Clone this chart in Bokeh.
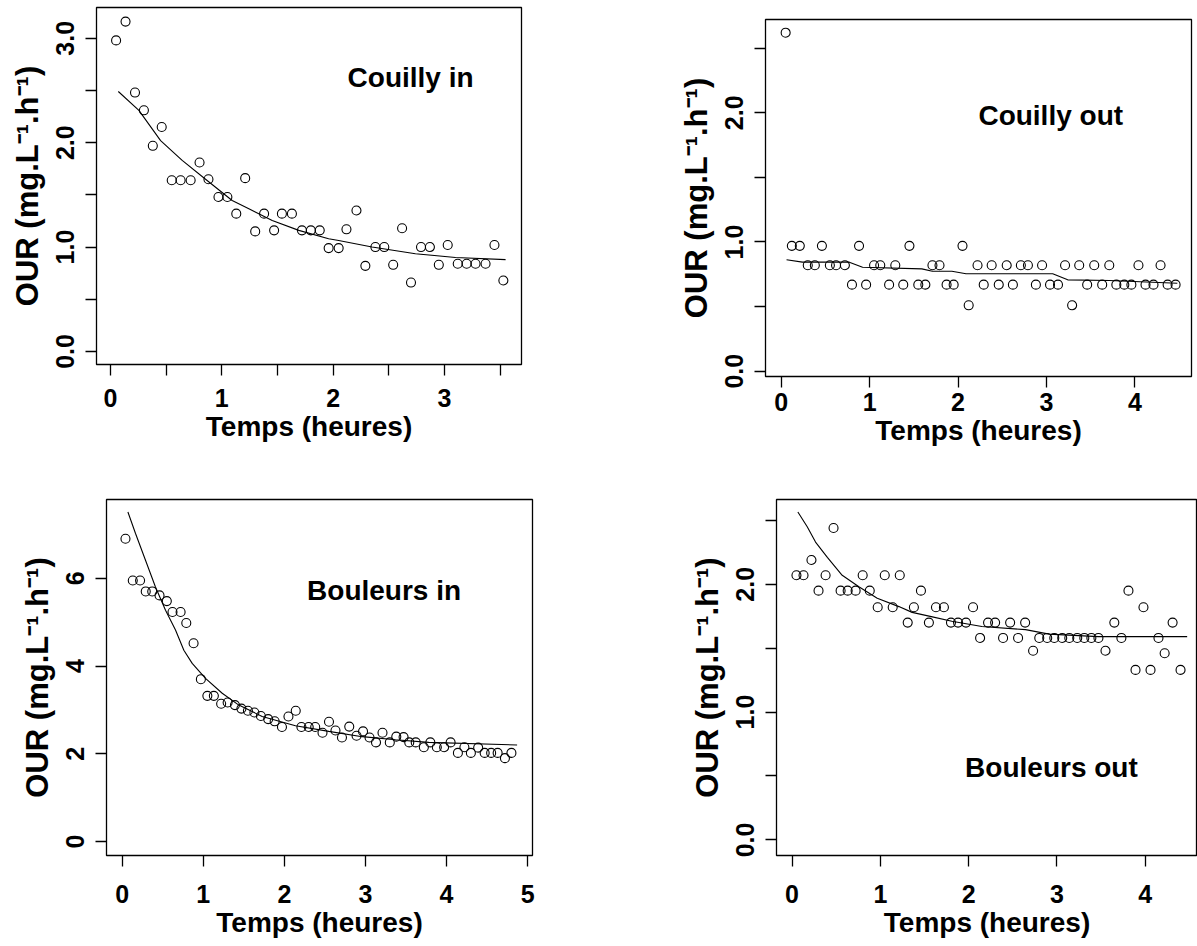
from bokeh.plotting import figure
from bokeh.models import FixedTicker, PrintfTickFormatter, Label, Range1d, Spacer
from bokeh.layouts import column, row
from bokeh.embed import file_html
from bokeh.resources import INLINE

FONT = "Liberation Sans"
XLAB = "Temps (heures)"
YLAB = "OUR (mg.L\u207b\u00b9.h\u207b\u00b9)"

# ---------------- Couilly in ----------------
ci_t = [0.05, 0.135, 0.22, 0.30, 0.38, 0.46, 0.55, 0.63, 0.72, 0.80, 0.88, 0.97, 1.05,
        1.13, 1.21, 1.30, 1.38, 1.47, 1.54, 1.63, 1.72, 1.80, 1.88, 1.96, 2.05, 2.12,
        2.21, 2.29, 2.38, 2.46, 2.54, 2.62, 2.70, 2.79, 2.87, 2.95, 3.03, 3.12, 3.20,
        3.28, 3.37, 3.45, 3.53]
ci_our = [2.98, 3.16, 2.48, 2.31, 1.97, 2.15, 1.64, 1.64, 1.64, 1.81, 1.65, 1.48, 1.48,
          1.32, 1.66, 1.15, 1.32, 1.16, 1.32, 1.32, 1.16, 1.16, 1.16, 0.99, 0.99, 1.17,
          1.35, 0.82, 1.00, 1.00, 0.83, 1.18, 0.66, 1.00, 1.00, 0.83, 1.02, 0.84, 0.84,
          0.84, 0.84, 1.02, 0.68]
ci_fit_t = [0.07, 0.255, 0.45, 0.644, 0.854, 1.093, 1.243, 1.453, 1.692, 1.96, 2.05,
            2.35, 2.74, 3.1, 3.55]
ci_fit_our = [2.49, 2.31, 2.02, 1.83, 1.65, 1.446, 1.367, 1.255, 1.16, 1.08, 1.063,
              1.00, 0.936, 0.90, 0.88]

# ---------------- Couilly out ----------------
co_t = [0.05, 0.12, 0.21, 0.30, 0.38, 0.46, 0.55, 0.62, 0.72, 0.80, 0.88, 0.96, 1.05,
        1.12, 1.22, 1.29, 1.38, 1.45, 1.55, 1.63, 1.71, 1.79, 1.87, 1.95, 2.05, 2.12,
        2.22, 2.29, 2.38, 2.46, 2.55, 2.62, 2.71, 2.79, 2.88, 2.95, 3.04, 3.13, 3.21,
        3.29, 3.37, 3.46, 3.54, 3.63, 3.71, 3.79, 3.88, 3.96, 4.04, 4.12, 4.21, 4.29,
        4.37, 4.46]
co_our = [2.62, 0.97, 0.97, 0.82, 0.82, 0.97, 0.82, 0.82, 0.82, 0.67, 0.97, 0.67, 0.82,
          0.82, 0.67, 0.82, 0.67, 0.97, 0.67, 0.67, 0.82, 0.82, 0.67, 0.67, 0.97, 0.51,
          0.82, 0.67, 0.82, 0.67, 0.82, 0.67, 0.82, 0.82, 0.67, 0.82, 0.67, 0.67, 0.82,
          0.51, 0.82, 0.67, 0.82, 0.67, 0.82, 0.67, 0.67, 0.67, 0.82, 0.67, 0.67, 0.82,
          0.67, 0.67]
co_fit_t = [0.06, 0.24, 0.77, 0.92, 1.59, 1.71, 1.93, 2.09, 3.07, 3.24, 3.71, 4.48]
co_fit_our = [0.862, 0.844, 0.844, 0.805, 0.792, 0.774, 0.774, 0.754, 0.754, 0.707,
              0.702, 0.681]

# ---------------- Bouleurs in ----------------
bi_t = [0.04, 0.13, 0.22, 0.29, 0.37, 0.46, 0.55, 0.62, 0.72, 0.79, 0.88, 0.97, 1.05,
        1.13, 1.22, 1.30, 1.39, 1.47, 1.55, 1.63, 1.71, 1.80, 1.88, 1.97, 2.05, 2.14,
        2.21, 2.30, 2.38, 2.47, 2.55, 2.63, 2.71, 2.80, 2.89, 2.97, 3.05, 3.13, 3.21,
        3.30, 3.38, 3.47, 3.54, 3.62, 3.72, 3.80, 3.88, 3.97, 4.05, 4.14, 4.22, 4.30,
        4.39, 4.47, 4.55, 4.63, 4.72, 4.80]
bi_our = [6.90, 5.95, 5.95, 5.70, 5.70, 5.61, 5.48, 5.23, 5.23, 4.98, 4.52, 3.70, 3.32,
          3.32, 3.14, 3.17, 3.11, 3.03, 2.98, 2.94, 2.86, 2.79, 2.74, 2.61, 2.85, 2.98,
          2.61, 2.61, 2.61, 2.48, 2.73, 2.53, 2.37, 2.62, 2.41, 2.51, 2.37, 2.26, 2.48,
          2.26, 2.39, 2.38, 2.26, 2.26, 2.15, 2.26, 2.15, 2.15, 2.26, 2.02, 2.15, 2.02,
          2.14, 2.02, 2.02, 2.02, 1.90, 2.02]
bi_fit_t = [0.07, 0.164, 0.287, 0.41, 0.534, 0.657, 0.76, 0.863, 1.027, 1.233, 1.438,
            1.726, 2.137, 2.548, 2.96, 3.37, 3.78, 4.87]
bi_fit_our = [7.51, 7.02, 6.41, 5.80, 5.27, 4.82, 4.36, 4.06, 3.72, 3.38, 3.11, 2.85,
              2.64, 2.51, 2.39, 2.32, 2.26, 2.20]

# ---------------- Bouleurs out ----------------
bo_t = [0.05, 0.13, 0.22, 0.30, 0.38, 0.47, 0.55, 0.63, 0.72, 0.80, 0.88, 0.97, 1.05,
        1.14, 1.22, 1.31, 1.38, 1.46, 1.55, 1.63, 1.72, 1.80, 1.88, 1.97, 2.05, 2.13,
        2.22, 2.30, 2.39, 2.47, 2.56, 2.64, 2.73, 2.80, 2.89, 2.97, 3.06, 3.14, 3.23,
        3.31, 3.39, 3.47, 3.55, 3.65, 3.73, 3.81, 3.89, 3.98, 4.06, 4.15, 4.22, 4.31,
        4.40]
bo_our = [2.07, 2.07, 2.19, 1.95, 2.07, 2.44, 1.95, 1.95, 1.95, 2.07, 1.95, 1.82, 2.07,
          1.82, 2.07, 1.70, 1.82, 1.95, 1.70, 1.82, 1.82, 1.70, 1.70, 1.70, 1.82, 1.58,
          1.70, 1.70, 1.58, 1.70, 1.58, 1.70, 1.48, 1.58, 1.58, 1.58, 1.58, 1.58, 1.58,
          1.58, 1.58, 1.58, 1.48, 1.70, 1.58, 1.95, 1.33, 1.82, 1.33, 1.58, 1.46, 1.70,
          1.33]
bo_fit_t = [0.066, 0.172, 0.266, 0.40, 0.568, 0.757, 0.965, 1.21, 1.36, 1.59, 1.81,
            2.15, 2.645, 2.91, 3.47, 4.475]
bo_fit_our = [2.565, 2.45, 2.33, 2.21, 2.07, 1.98, 1.89, 1.825, 1.78, 1.745, 1.71,
              1.67, 1.645, 1.61, 1.59, 1.59]


def panel(width, height, borders, xr, yr, xmaj, xmin, ymaj, ymin, yfmt,
          t, our, fit_t, fit_our, label, label_xy, x_standoff):
    ml, mr, mt, mb = borders
    p = figure(width=width, height=height, output_backend="svg", toolbar_location=None,
               title=None,
               x_range=Range1d(*xr), y_range=Range1d(*yr),
               min_border_left=ml, min_border_right=mr,
               min_border_top=mt, min_border_bottom=mb,
               background_fill_color="white", border_fill_color="white")
    p.grid.visible = False
    p.outline_line_color = "black"
    p.outline_line_width = 1.3
    p.xaxis.ticker = FixedTicker(ticks=xmaj, minor_ticks=xmin)
    p.yaxis.ticker = FixedTicker(ticks=ymaj, minor_ticks=ymin)
    p.yaxis.formatter = PrintfTickFormatter(format=yfmt)
    p.xaxis.formatter = PrintfTickFormatter(format="%d")
    for ax in (p.xaxis, p.yaxis):
        ax.axis_line_color = None
        ax.major_tick_in = 0
        ax.major_tick_out = 11
        ax.minor_tick_in = 0
        ax.minor_tick_out = 11
        ax.major_tick_line_color = "black"
        ax.minor_tick_line_color = "black"
        ax.major_tick_line_width = 1.3
        ax.minor_tick_line_width = 1.3
        ax.major_label_text_font = FONT
        ax.major_label_text_font_style = "bold"
        ax.major_label_text_font_size = "25px"
        ax.major_label_text_color = "black"
        ax.axis_label_text_font = FONT
        ax.axis_label_text_font_style = "bold"
        ax.axis_label_text_color = "black"
    p.xaxis.axis_label = XLAB
    p.yaxis.axis_label = YLAB
    p.xaxis.axis_label_text_font_size = "28px"
    p.yaxis.axis_label_text_font_size = "31px"
    p.yaxis.major_label_orientation = "parallel"
    p.xaxis.major_label_standoff = x_standoff
    p.yaxis.major_label_standoff = 11
    p.xaxis.axis_label_standoff = 1
    p.yaxis.axis_label_standoff = 9

    p.line(fit_t, fit_our, line_color="black", line_width=1.1)
    p.scatter(t, our, marker="circle", size=9, fill_color=None,
              line_color="black", line_width=1.1)
    p.add_layout(Label(x=label_xy[0], y=label_xy[1], text=label, text_font=FONT,
                       text_font_style="bold", text_font_size="28px",
                       text_color="black", text_align="left",
                       text_baseline="alphabetic"))
    return p


p1 = panel(600, 478, (96, 79, 7, 114), (-0.126, 3.693), (-0.125, 3.295),
           [0, 1, 2, 3], [0.5, 1.5, 2.5, 3.5], [0, 1, 2, 3], [0.5, 1.5, 2.5], "%.1f",
           ci_t, ci_our, ci_fit_t, ci_fit_our, "Couilly in", (2.13, 2.62), 13)
p2 = panel(597, 466, (165, 6, 7, 102), (-0.178, 4.64), (-0.041, 2.722),
           [0, 1, 2, 3, 4], [], [0, 1, 2], [0.5, 1.5, 2.5], "%.1f",
           co_t, co_our, co_fit_t, co_fit_our, "Couilly out", (2.23, 1.98), 5)
p3 = panel(600, 466, (106, 68, 21, 89), (-0.194, 5.06), (-0.318, 7.795),
           [0, 1, 2, 3, 4, 5], [], [0, 2, 4, 6], [], "%d",
           bi_t, bi_our, bi_fit_t, bi_fit_our, "Bouleurs in", (2.28, 5.73), 18)
p4 = panel(597, 466, (176, 0, 21, 87), (-0.176, 4.592), (-0.122, 2.663),
           [0, 1, 2, 3, 4], [], [0, 1, 2], [0.5, 1.5, 2.5], "%.1f",
           bo_t, bo_our, bo_fit_t, bo_fit_our, "Bouleurs out", (1.96, 0.57), 18)

top_right = column(Spacer(width=597, height=12), p2, spacing=0)
layout = column(row(column(p1, spacing=0), top_right, spacing=0),
                row(p3, p4, spacing=0), spacing=0)

with open("out.html", "w") as f:
    f.write(file_html(layout, INLINE, title="OUR"))
